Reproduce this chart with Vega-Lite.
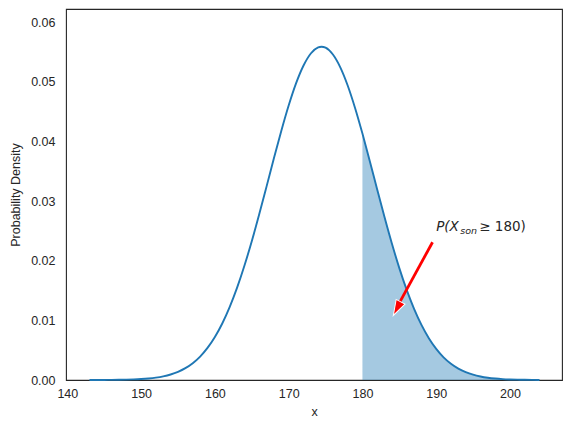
{
  "$schema": "https://vega.github.io/schema/vega-lite/v6.json",
  "autosize": {"type": "none"},
  "width": 496,
  "height": 371,
  "padding": {"left": 66, "top": 9, "right": 10, "bottom": 52},
  "background": "white",
  "config": {
    "view": {"stroke": "#262626", "strokeWidth": 1.1},
    "axis": {
      "grid": false, "ticks": false, "domain": false,
      "labelFont": "Liberation Sans", "labelFontSize": 12.5, "labelColor": "#262626",
      "titleFont": "Liberation Sans", "titleFontSize": 12.5, "titleFontWeight": "normal", "titleColor": "#262626"
    }
  },
  "datasets": {
    "curve": [
      {"x": 143, "density": 0.00000343},
      {"x": 144, "density": 0.00000629},
      {"x": 145, "density": 0.0000113},
      {"x": 146, "density": 0.0000199},
      {"x": 147, "density": 0.0000345},
      {"x": 148, "density": 0.0000585},
      {"x": 149, "density": 0.0000973},
      {"x": 150, "density": 0.0001588},
      {"x": 151, "density": 0.0002541},
      {"x": 152, "density": 0.000398},
      {"x": 153, "density": 0.000613},
      {"x": 154, "density": 0.000925},
      {"x": 155, "density": 0.001367},
      {"x": 156, "density": 0.001982},
      {"x": 157, "density": 0.002819},
      {"x": 158, "density": 0.003931},
      {"x": 159, "density": 0.005377},
      {"x": 160, "density": 0.007208},
      {"x": 161, "density": 0.009477},
      {"x": 162, "density": 0.01222},
      {"x": 163, "density": 0.01544},
      {"x": 164, "density": 0.01915},
      {"x": 165, "density": 0.02327},
      {"x": 166, "density": 0.02774},
      {"x": 167, "density": 0.03242},
      {"x": 168, "density": 0.03716},
      {"x": 169, "density": 0.04175},
      {"x": 170, "density": 0.04601},
      {"x": 171, "density": 0.04972},
      {"x": 172, "density": 0.05268},
      {"x": 173, "density": 0.05474},
      {"x": 174, "density": 0.05576},
      {"x": 174.45, "density": 0.05587},
      {"x": 175, "density": 0.05571},
      {"x": 176, "density": 0.05457},
      {"x": 177, "density": 0.05242},
      {"x": 178, "density": 0.04938},
      {"x": 179, "density": 0.04561},
      {"x": 180, "density": 0.04131},
      {"x": 181, "density": 0.03668},
      {"x": 182, "density": 0.03194},
      {"x": 183, "density": 0.02728},
      {"x": 184, "density": 0.02284},
      {"x": 185, "density": 0.01876},
      {"x": 186, "density": 0.01510},
      {"x": 187, "density": 0.01192},
      {"x": 188, "density": 0.009230},
      {"x": 189, "density": 0.007007},
      {"x": 190, "density": 0.005216},
      {"x": 191, "density": 0.003806},
      {"x": 192, "density": 0.002725},
      {"x": 193, "density": 0.001912},
      {"x": 194, "density": 0.001316},
      {"x": 195, "density": 0.000888},
      {"x": 196, "density": 0.000588},
      {"x": 197, "density": 0.000381},
      {"x": 198, "density": 0.000243},
      {"x": 199, "density": 0.000151},
      {"x": 200, "density": 0.0000926},
      {"x": 201, "density": 0.0000555},
      {"x": 202, "density": 0.0000327},
      {"x": 203, "density": 0.0000188},
      {"x": 204, "density": 0.0000107}
    ],
    "arrow": [
      {"x": 189.5, "y": 0.0231, "x2": 184.95, "y2": 0.0128}
    ],
    "head": [
      {"x": 184.82, "y": 0.0123}
    ],
    "label": [
      {"x": 190, "y": 0.025}
    ]
  },
  "layer": [
    {
      "data": {"name": "curve"},
      "transform": [{"filter": "datum.x >= 180"}],
      "mark": {"type": "area", "color": "#1f77b4", "opacity": 0.4, "interpolate": "monotone"},
      "encoding": {
        "x": {"field": "x", "type": "quantitative", "scale": {"domain": [139.82, 207.05], "nice": false, "zero": false},
              "axis": {"values": [140, 150, 160, 170, 180, 190, 200], "title": "x", "labelPadding": 7, "titlePadding": 6}},
        "y": {"field": "density", "type": "quantitative", "scale": {"domain": [0, 0.0622], "nice": false},
              "axis": {"values": [0, 0.01, 0.02, 0.03, 0.04, 0.05, 0.06], "format": ".2f", "title": "Probability Density", "labelPadding": 11, "titlePadding": 8}}
      }
    },
    {
      "data": {"name": "curve"},
      "mark": {"type": "line", "color": "#1f77b4", "strokeWidth": 1.9, "interpolate": "monotone"},
      "encoding": {
        "x": {"field": "x", "type": "quantitative"},
        "y": {"field": "density", "type": "quantitative"}
      }
    },
    {
      "data": {"name": "arrow"},
      "mark": {"type": "rule", "color": "red", "strokeWidth": 2.8},
      "encoding": {
        "x": {"field": "x", "type": "quantitative"},
        "y": {"field": "y", "type": "quantitative"},
        "x2": {"field": "x2"},
        "y2": {"field": "y2"}
      }
    },
    {
      "data": {"name": "head"},
      "mark": {"type": "point", "shape": "M0,-1L0.5,0.55L-0.5,0.55Z", "filled": true, "fill": "red", "stroke": "white", "strokeWidth": 1, "size": 400, "angle": 208, "opacity": 1},
      "encoding": {
        "x": {"field": "x", "type": "quantitative"},
        "y": {"field": "y", "type": "quantitative"}
      }
    },
    {
      "data": {"name": "label"},
      "mark": {"type": "text", "text": "P(X", "font": "DejaVu Sans", "fontStyle": "italic", "fontSize": 13.5, "align": "left", "baseline": "alphabetic", "color": "#262626"},
      "encoding": {
        "x": {"field": "x", "type": "quantitative"},
        "y": {"field": "y", "type": "quantitative"}
      }
    },
    {
      "data": {"name": "label"},
      "mark": {"type": "text", "text": "son", "font": "DejaVu Sans", "fontStyle": "italic", "fontSize": 9.5, "align": "left", "baseline": "alphabetic", "dx": 24, "dy": 3.5, "color": "#262626"},
      "encoding": {
        "x": {"field": "x", "type": "quantitative"},
        "y": {"field": "y", "type": "quantitative"}
      }
    },
    {
      "data": {"name": "label"},
      "mark": {"type": "text", "text": "≥ 180)", "font": "DejaVu Sans", "fontSize": 13.5, "align": "left", "baseline": "alphabetic", "dx": 43, "color": "#262626"},
      "encoding": {
        "x": {"field": "x", "type": "quantitative"},
        "y": {"field": "y", "type": "quantitative"}
      }
    }
  ]
}
